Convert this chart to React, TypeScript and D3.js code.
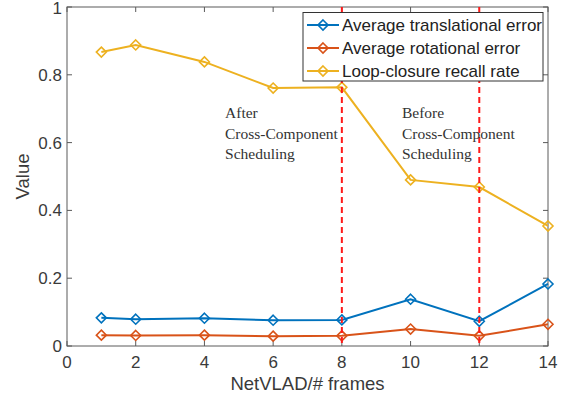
import React from 'react';
import * as d3 from 'd3';

const frames = [1, 2, 4, 6, 8, 10, 12, 14];
const transError = [0.083, 0.079, 0.082, 0.076, 0.077, 0.138, 0.073, 0.183];
const rotError = [0.032, 0.031, 0.032, 0.029, 0.030, 0.050, 0.030, 0.064];
const recallRate = [0.867, 0.888, 0.838, 0.761, 0.763, 0.490, 0.469, 0.354];

const xTicks = [0, 2, 4, 6, 8, 10, 12, 14];
const yTicks = [0, 0.2, 0.4, 0.6, 0.8, 1];
const splitFrames = [8, 12];

const series = [
  { name: 'Average translational error', values: transError, color: '#0072BD' },
  { name: 'Average rotational error', values: rotError, color: '#D95319' },
  { name: 'Loop-closure recall rate', values: recallRate, color: '#EDB120' },
];

const notes = [
  { x: 4.6, lines: ['After', 'Cross-Component', 'Scheduling'] },
  { x: 9.75, lines: ['Before', 'Cross-Component', 'Scheduling'] },
];

const W = 565;
const H = 397;
const left = 67, right = 548, top = 7, bottom = 346;
const axisColor = '#5a5a5a';
const textColor = '#3a3a3a';

function diamond(cx: number, cy: number, r: number) {
  return `M${cx},${cy - r}L${cx + r},${cy}L${cx},${cy + r}L${cx - r},${cy}Z`;
}

export default function App() {
  const x = d3.scaleLinear().domain([0, 14]).range([left, right]);
  const y = d3.scaleLinear().domain([0, 1]).range([bottom, top]);
  const line = d3.line<number>()
    .x((d, i) => x(frames[i]))
    .y((d) => y(d));

  const tickLen = 5;

  return (
    <svg width={W} height={H} style={{ position: 'absolute', left: 0, top: 0, background: '#fff' }}
      fontFamily="'Liberation Sans', Arial, sans-serif">
      <rect x={0} y={0} width={W} height={H} fill="#fff" />

      {/* frame */}
      <rect x={left} y={top} width={right - left} height={bottom - top} fill="none" stroke={axisColor} strokeWidth={1} />

      {/* x ticks */}
      {xTicks.map((t) => (
        <g key={'x' + t}>
          <line x1={x(t)} x2={x(t)} y1={bottom} y2={bottom - tickLen} stroke={axisColor} />
          <line x1={x(t)} x2={x(t)} y1={top} y2={top + tickLen} stroke={axisColor} />
          <text x={x(t)} y={bottom + 22} textAnchor="middle" fontSize={17} fill={textColor}>{t}</text>
        </g>
      ))}

      {/* y ticks */}
      {yTicks.map((t) => (
        <g key={'y' + t}>
          <line x1={left} x2={left + tickLen} y1={y(t)} y2={y(t)} stroke={axisColor} />
          <line x1={right} x2={right - tickLen} y1={y(t)} y2={y(t)} stroke={axisColor} />
          <text x={left - 5} y={Math.max(y(t) + 6, 14)} textAnchor="end" fontSize={17} fill={textColor}>{t}</text>
        </g>
      ))}

      {/* axis labels */}
      <text x={(left + right) / 2} y={390} textAnchor="middle" fontSize={18.5} fill={textColor}>NetVLAD/# frames</text>
      <text transform={`translate(29,${(top + bottom) / 2}) rotate(-90)`} textAnchor="middle" fontSize={18.5} fill={textColor}>Value</text>

      {/* series */}
      {series.map((s) => (
        <g key={s.name}>
          <path d={line(s.values) || ''} fill="none" stroke={s.color} strokeWidth={2} />
          {s.values.map((v, i) => (
            <path key={i} d={diamond(x(frames[i]), y(v), 5)} fill="none" stroke={s.color} strokeWidth={1.6} />
          ))}
        </g>
      ))}

      {/* split lines */}
      {splitFrames.map((f) => (
        <line key={f} x1={x(f)} x2={x(f)} y1={top} y2={bottom} stroke="#ff1a1a" strokeWidth={2} strokeDasharray="6,4" />
      ))}

      {/* annotations */}
      {notes.map((n, k) => (
        <text key={k} fontFamily="'Liberation Serif', 'Times New Roman', serif" fontSize={15.5} fill="#333">
          {n.lines.map((l, j) => (
            <tspan key={j} x={x(n.x)} y={118 + j * 20.5}>{l}</tspan>
          ))}
        </text>
      ))}

      {/* legend */}
      <g>
        <rect x={303} y={12.5} width={240} height={68.5} fill="#fff" stroke="#333" strokeWidth={1} />
        {series.map((s, i) => {
          const cy = 25 + i * 23;
          return (
            <g key={s.name}>
              <line x1={307} x2={339} y1={cy} y2={cy} stroke={s.color} strokeWidth={2} />
              <path d={diamond(323, cy, 5)} fill="none" stroke={s.color} strokeWidth={1.6} />
              <text x={342} y={cy + 6} fontSize={17} fill="#222">{s.name}</text>
            </g>
          );
        })}
      </g>
    </svg>
  );
}
